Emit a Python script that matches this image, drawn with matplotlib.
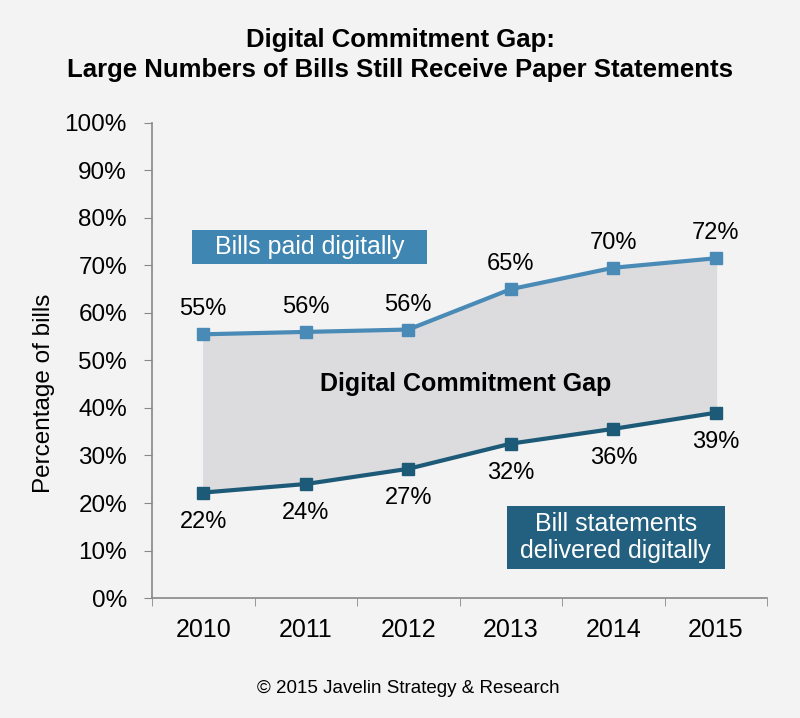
import matplotlib.pyplot as plt
import matplotlib.patches as mpatches
import numpy as np

# data
years = ['2010', '2011', '2012', '2013', '2014', '2015']
paid_digitally = [55.5, 56, 56.5, 65, 69.5, 71.5]
paid_labels = ['55%', '56%', '56%', '65%', '70%', '72%']
statements_digital = [22.2, 24, 27.2, 32.5, 35.6, 39]
statements_labels = ['22%', '24%', '27%', '32%', '36%', '39%']

plt.rcParams['font.family'] = ['Liberation Sans', 'DejaVu Sans']

bg = '#f3f3f3'
c_paid = '#4a8ab6'
c_stmt = '#1d5a78'

fig = plt.figure(figsize=(8, 7.18), dpi=100, facecolor=bg)
ax = fig.add_axes([0.19, 0.167, 0.769, 0.662])
ax.set_facecolor('none')

x = np.arange(len(years))
ax.fill_between(x, statements_digital, paid_digitally, color='#dcdcde', zorder=1)
ax.plot(x, paid_digitally, color=c_paid, lw=3, marker='s', ms=8, zorder=3)
ax.plot(x, statements_digital, color=c_stmt, lw=3, marker='s', ms=8, zorder=3)

for xi, v, t in zip(x, paid_digitally, paid_labels):
    ax.annotate(t, (xi, v), xytext=(0, 10), textcoords='offset points',
                ha='center', va='bottom', fontsize=17)
for xi, v, t in zip(x, statements_digital, statements_labels):
    ax.annotate(t, (xi, v), xytext=(0, -13), textcoords='offset points',
                ha='center', va='top', fontsize=17)

# label boxes
ax.add_patch(mpatches.Rectangle((0.065, 0.703), 0.382, 0.072, transform=ax.transAxes,
                                fc='#3f86b2', ec='none', zorder=4))
ax.text(0.256, 0.739, 'Bills paid digitally', transform=ax.transAxes,
        ha='center', va='center', fontsize=18, color='white', zorder=5)
ax.add_patch(mpatches.Rectangle((0.577, 0.061), 0.355, 0.133, transform=ax.transAxes,
                                fc='#235f7e', ec='none', zorder=4))
ax.text(0.754, 0.127, 'Bill statements\ndelivered digitally', transform=ax.transAxes,
        ha='center', va='center', fontsize=18, color='white', linespacing=1.15, zorder=5)
ax.text(0.509, 0.45, 'Digital Commitment Gap', transform=ax.transAxes,
        ha='center', va='center', fontsize=18, fontweight='bold')

ax.set_xlim(-0.5, 5.5)
ax.set_ylim(0, 100)
ax.set_yticks(range(0, 101, 10))
ax.set_yticklabels([f'{v}%' for v in range(0, 101, 10)], fontsize=17.5)
ax.set_xticks(x)
ax.set_xticklabels(years, fontsize=18)
ax.set_xticks(np.arange(-0.5, 6, 1), minor=True)
ax.tick_params(axis='x', which='major', length=0, pad=14)
ax.tick_params(axis='x', which='minor', length=6, color='#888888')
ax.tick_params(axis='y', length=6, color='#888888', pad=12)
ax.set_ylabel('Percentage of bills', fontsize=17.5)
ax.yaxis.set_label_coords(-0.157, 0.43)

for s in ['top', 'right']:
    ax.spines[s].set_visible(False)
for s in ['left', 'bottom']:
    ax.spines[s].set_color('#888888')
    ax.spines[s].set_linewidth(1.2)

fig.text(0.5, 0.923, 'Digital Commitment Gap:\nLarge Numbers of Bills Still Receive Paper Statements',
         ha='center', va='center', fontsize=18.5, fontweight='bold', linespacing=1.3)
fig.text(0.51, 0.041, '\u00a9 2015 Javelin Strategy & Research', ha='center', va='center', fontsize=13.5)

fig.savefig('out.png', dpi=100, facecolor=bg)
